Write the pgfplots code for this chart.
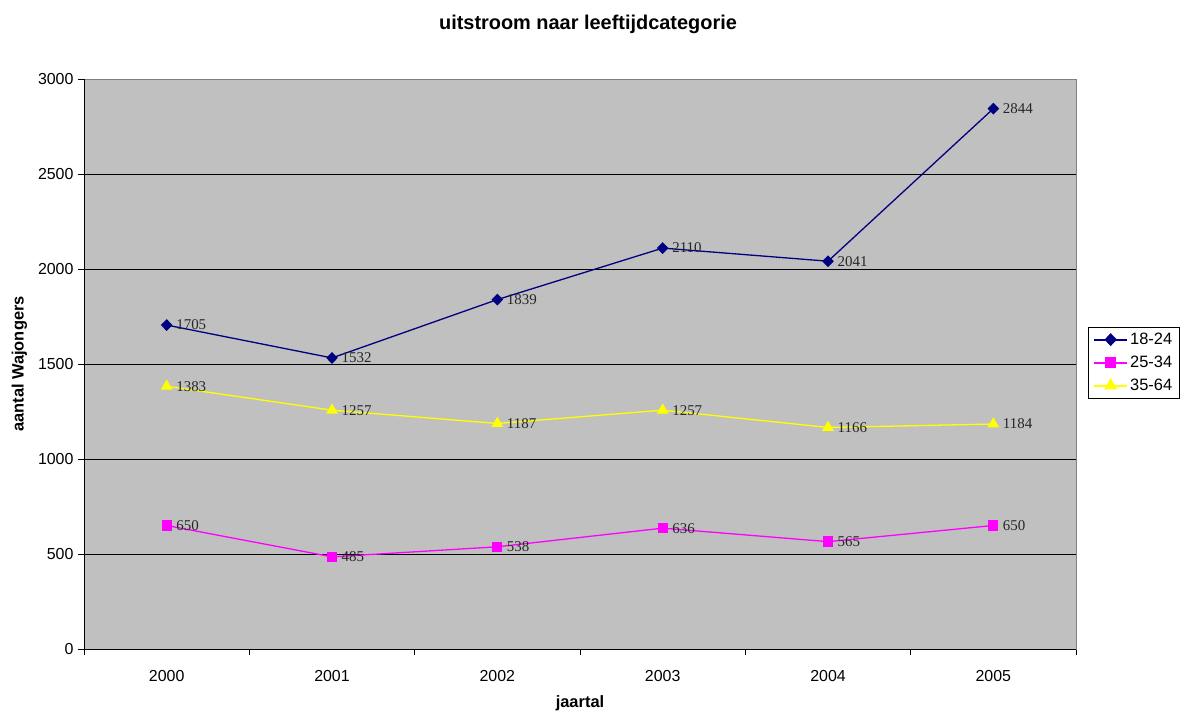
\documentclass[border=0pt]{standalone}
\usepackage{fontspec}
\setmainfont{Liberation Sans}
\newfontfamily\seriffont{Liberation Serif}
\usepackage{pgfplots}
\pgfplotsset{compat=1.18}
\definecolor{plotbg}{HTML}{C0C0C0}
\definecolor{sNavy}{HTML}{000080}
\definecolor{sMag}{HTML}{FF00FF}
\definecolor{sYel}{HTML}{FFFF00}
\begin{document}
\begin{tikzpicture}
\begin{axis}[
  at={(0,0)}, anchor=south west,
  scale only axis, width=992bp, height=570bp,
  xmin=-0.5, xmax=5.5, ymin=0, ymax=3000,
  xtick={0,1,2,3,4,5},
  xticklabels={2000,2001,2002,2003,2004,2005},
  minor xtick={-0.5,0.5,1.5,2.5,3.5,4.5,5.5},
  ytick={0,500,1000,1500,2000,2500},
  extra y ticks={3000},
  extra y tick style={grid=none},
  tick pos=left,
  ymajorgrids,
  major grid style={black, line width=0.6bp},
  tick align=outside,
  major tick length=6bp, minor tick length=6bp,
  xtick style={draw=none},
  minor x tick style={draw=black, line width=0.6bp},
  ytick style={black, line width=0.6bp},
  axis line style={draw=gray, line width=0.8bp},
  axis background/.style={fill=plotbg},
  tick label style={font=\fontsize{16}{19}\selectfont},
  xticklabel style={yshift=-12bp},
  yticklabel style={xshift=-1bp},
  xlabel={\textbf{jaartal}},
  ylabel={\textbf{aantal Wajongers}},
  xlabel style={yshift=-7bp},
  ylabel style={yshift=-8bp},
  label style={font=\fontsize{16.5}{19}\selectfont},
  scaled y ticks=false,
  y tick label style={/pgf/number format/.cd, 1000 sep={}, assume math mode=true},
  legend style={at={(rel axis cs:1.0121,0.565)}, anchor=north west, draw=black, fill=white,
    font=\fontsize{16.5}{19}\selectfont, inner xsep=5bp, inner ysep=4bp,
    row sep=6bp, cells={anchor=west}},
  legend image code/.code={\draw[mark repeat=2,mark phase=2] plot coordinates {(0bp,0bp)(16.5bp,0bp)(33bp,0bp)};},
  every legend image post/.style={line width=2bp},
  nodes near coords={\pgfmathprintnumber[1000 sep={},assume math mode=true]{\pgfplotspointmeta}},
  every node near coord/.append style={anchor=west, inner sep=0pt, xshift=9bp,
    font=\seriffont\fontsize{15}{18}\selectfont, text=black!85},
]
\addplot[sNavy, line width=1.3bp, mark=diamond*, mark size=5bp, mark options={fill=sNavy, draw=sNavy, xscale=1.3}]
  coordinates {(0,1705) (1,1532) (2,1839) (3,2110) (4,2041) (5,2844)};
\addlegendentry{18-24}
\addplot[sMag, line width=1.3bp, mark=square*, mark size=4.5bp, mark options={fill=sMag, draw=sMag}]
  coordinates {(0,650) (1,485) (2,538) (3,636) (4,565) (5,650)};
\addlegendentry{25-34}
\addplot[sYel, line width=1.3bp, mark=triangle*, mark size=5.5bp, mark options={fill=sYel, draw=sYel}]
  coordinates {(0,1383) (1,1257) (2,1187) (3,1257) (4,1166) (5,1184)};
\addlegendentry{35-64}
\draw[black, line width=0.8bp] (rel axis cs:0,1) -- (rel axis cs:0,0) -- (rel axis cs:1,0);
\end{axis}
\node[font=\bfseries\fontsize{20}{23}\selectfont] at (504bp,625bp) {uitstroom naar leeftijdcategorie};
\pgfresetboundingbox
\useasboundingbox (-84bp,-63bp) rectangle (1103bp,649bp);
\end{tikzpicture}
\end{document}
